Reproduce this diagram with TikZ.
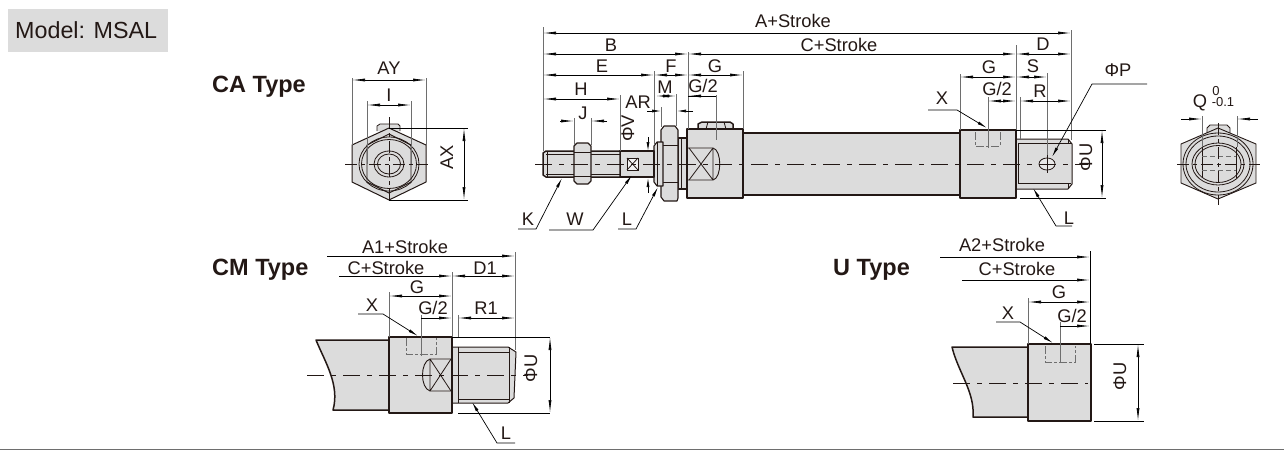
\documentclass[tikz,border=0pt]{standalone}
\usepackage{fontspec}
\setmainfont{Liberation Sans}
\usetikzlibrary{arrows.meta}
\definecolor{bodygray}{HTML}{DCDCDC}
\definecolor{inkk}{HTML}{231815}
\definecolor{extgray}{HTML}{6E6E6E}
\tikzset{
 x=1pt,y=-1pt,
 body/.style={draw=inkk,fill=bodygray,line width=1.5pt,line join=round},
 thinb/.style={draw=inkk,line width=.8pt},
 dim/.style={draw=black,line width=.7pt,arrows={Latex[length=13pt,width=3pt]-Latex[length=13pt,width=3pt]}},
 dimr/.style={draw=black,line width=.7pt,arrows={-Latex[length=13pt,width=3pt]}},
 ext/.style={draw=extgray,line width=.8pt},
 lead/.style={draw=black,line width=.7pt},
 cl/.style={draw=inkk,line width=.7pt,dash pattern=on 17pt off 7pt on 5pt off 7pt},
 hid/.style={draw=extgray,line width=.8pt,dash pattern=on 5pt off 3pt},
 lb/.style={inner sep=0pt,anchor=base,text=inkk,font=\fontsize{18.3}{18}\selectfont},
 ttl/.style={inner sep=0pt,anchor=base west,text=inkk,font=\fontsize{23.5}{24}\selectfont\bfseries},
}
\newcommand{\lbl}[3]{\node[lb] at (#1,#2) [yshift=-6.5pt] {#3};}
\newcommand{\lblr}[3]{\node[lb,rotate=90] at (#1,#2) [xshift=6.5pt] {#3};}
\begin{document}
\begin{tikzpicture}
\useasboundingbox (0,0) rectangle (1284,450);
% title box
\fill[bodygray] (8,9) rectangle (168,52);
\node[inner sep=0pt,anchor=base west,text=inkk,font=\fontsize{23.3}{24}\selectfont] (model) at (15,38) {Model: MSAL};
\node[ttl] (ca) at (212,92) {CA Type};
\node[ttl] (cm) at (212,275) {CM Type};
\node[ttl] (ut) at (833,275) {U Type};
% bottom rule
\draw[draw=extgray,line width=.9pt] (0,449.3) -- (1284,449.3);

% ---------- left end view
\draw[body,line width=.8pt] (377,131) -- (377,126) -- (380,124) -- (398,124) -- (400,126) -- (400,131);
\draw[body,line width=1pt] (389,128) -- (426,145) -- (426,182) -- (389,200) -- (352,182) -- (352,145) -- cycle;
\draw[thinb] (389,164) ellipse (30 and 27);
\draw[thinb] (389,164) ellipse (27.5 and 24.5);
\draw[thinb,line width=.9pt] (389,134) -- (411,145) -- (411,182) -- (389,193) -- (367,182) -- (367,145) -- cycle;
\draw[thinb] (389,164) ellipse (15 and 13);
\draw[thinb] (389,164) ellipse (11.5 and 10);
\draw[cl,dash pattern=on 12pt off 4pt on 4pt off 4pt] (345,164) -- (428,164);
\draw[cl,dash pattern=on 12pt off 4pt on 4pt off 4pt] (389,117) -- (389,201);
\draw[ext] (352,78) -- (352,145) (426,78) -- (426,145) (367,101) -- (367,164) (411,101) -- (411,164);
\draw[lead] (389,128) -- (468,128) (389,200) -- (468,200);
\draw[dim] (352,80) -- (426,80);
\draw[dim] (367,105) -- (411,105);
\draw[dim] (464,128) -- (464,200);
\lbl{389}{68}{AY} \lbl{389}{95}{I} \lblr{453}{164}{AX}

% ---------- main cylinder
\draw[body] (743,133) rectangle (960,195);
\draw[body] (698,129) -- (698,124) -- (702,122) -- (730,122) -- (733,124) -- (733,129);
\draw[thinb] (708,122) -- (706,129) (724,122) -- (726,129);
\draw[body,line width=1pt] (1016,139) -- (1068,139) -- (1072,144) -- (1072,184) -- (1068,189) -- (1016,189) -- cycle;
\draw[thinb] (1018,143) -- (1071,143) (1018,143) -- (1018,183) -- (1071,183);
\draw[thinb] (1068,139) -- (1068,143) (1068,183) -- (1068,189);
\draw[body] (960,130) rectangle (1016,198);
\draw[body] (687,129) rectangle (743,198);
\draw[body,line width=1.1pt] (678,138) -- (687,138) -- (687,189) -- (678,189) -- cycle;
\draw[thinb] (681,138) -- (681,189);
\draw[body,line width=1.1pt] (661,130) -- (664,126) -- (675,126) -- (678,130) -- (678,198) -- (677,201) -- (664,201) -- (661,197) -- cycle;
\draw[thinb] (661,145) -- (678,145) (661,182) -- (678,182);
\draw[body,line width=1.1pt] (654,146) -- (657,142) -- (663,142) -- (663,186) -- (657,186) -- (654,182) -- cycle;
\draw[thinb] (657,142) -- (657,186);
\draw[body] (620,151) rectangle (654,177);
\draw[body] (543,153) -- (546,151) -- (620,151) -- (620,177) -- (546,177) -- (543,175) -- cycle;
\draw[thinb] (546,154) -- (620,154) (546,174) -- (620,174) (547,151) -- (547,177);
\draw[body,line width=1.1pt] (574,146) -- (577,143) -- (588,143) -- (591,146) -- (591,181) -- (588,184) -- (577,184) -- (574,181) -- cycle;
\draw[thinb] (574,152) -- (591,152) (574,176) -- (591,176);
\draw[thinb,fill=white!70!bodygray,line width=.9pt] (627,158) rectangle (638,170);
\draw[thinb] (627,158) -- (638,170) (627,170) -- (638,158);
\draw[thinb,line width=.9pt] (688,148) -- (713,148) .. controls (722,150) and (722,178) .. (713,180) -- (688,180);
\draw[thinb] (713,148) -- (713,180) (689,148) -- (713,180) (689,180) -- (713,148);
\draw[hid,dash pattern=on 8pt off 2pt on 3pt off 2pt] (975,132) -- (975,146) -- (1000,146) -- (1000,132);
\draw[thinb,fill=white!35!bodygray] (1047,164) ellipse (8 and 6);
\draw[cl] (535,164) -- (1088,164);
\draw[thinb] (1047,154) -- (1047,173);
% extension lines
\draw[ext] (543,27) -- (543,151) (1071,30) -- (1071,140)
 (688,52) -- (688,129) (1016,45) -- (1016,130)
 (654,71) -- (654,145) (743,71) -- (743,129)
 (676,94) -- (676,126) (661,107) -- (661,127)
 (716,95) -- (716,140) (620,95) -- (620,151)
 (574,118) -- (574,145) (591,118) -- (591,145)
 (960,74) -- (960,130) (988,97) -- (988,148)
 (1047,73) -- (1047,155) (1020,97) -- (1020,139);
\draw[lead] (1016,130) -- (1106,130) (1020,198) -- (1106,198);
% dimensions
\draw[dim] (543,33) -- (1071,33);
\draw[dim] (543,54) -- (688,54);
\draw[dim] (688,54) -- (1016,54);
\draw[dim] (1016,54) -- (1071,54);
\draw[dim] (543,75) -- (654,75);
\draw[dim] (654,75) -- (688,75);
\draw[dim] (688,75) -- (743,75);
\draw[dim] (656,96) -- (676,96);
\draw[dimr] (701,96) -- (688,96);
\draw[lead] (688,96) -- (716,96);
\draw[dim] (543,99) -- (620,99);
\draw[dimr] (560,121) -- (574,121);
\draw[dimr] (607,121) -- (591,121);
\draw[dimr,arrows={-Latex[length=9pt,width=3pt]}] (647,111) -- (661,111);
\draw[dimr,arrows={-Latex[length=9pt,width=3pt]}] (693,111) -- (677,111);
\draw[dimr,arrows={-Latex[length=9pt,width=3pt]}] (648,137) -- (648,151);
\draw[dimr,arrows={-Latex[length=9pt,width=3pt]}] (648,193) -- (648,178);
\draw[dim] (960,77) -- (1016,77);
\draw[dim] (1016,77) -- (1047,77);
\draw[dimr] (1003,101) -- (1016,101);
\draw[dimr] (1003,101) -- (988,101);
\draw[dim] (1020,101) -- (1071,101);
\draw[dim] (1102,130) -- (1102,198);
% leaders
\draw[lead,-{Latex[length=10pt,width=3pt]}] (518,229) -- (536,229) -- (562,178);
\draw[lead,-{Latex[length=10pt,width=3pt]}] (549,230) -- (593,230) -- (632,175);
\draw[lead,-{Latex[length=10pt,width=3pt]}] (618,229) -- (636,229) -- (658,187);
\draw[lead,-{Latex[length=10pt,width=3pt]}] (928,110) -- (957,110) -- (987,128);
\draw[lead,-{Latex[length=10pt,width=3pt]}] (1147,84) -- (1092,84) -- (1052,157);
\draw[lead,-{Latex[length=10pt,width=3pt]}] (1072,226) -- (1056,226) -- (1033,188);
% labels
\lbl{793}{21}{A+Stroke} \lbl{611}{45}{B} \lbl{839}{45}{C+Stroke} \lbl{1043}{44}{D}
\lbl{602}{66}{E} \lbl{671}{66}{F} \lbl{715}{66}{G} \lbl{665}{87}{M} \lbl{703}{86}{G/2}
\lbl{581}{89}{H} \lbl{583}{113}{J} \lbl{638}{102}{AR} \lblr{634}{135}{ΦV}
\lbl{528}{219}{K} \lbl{575}{219}{W} \lbl{627}{219}{L}
\lbl{989}{67}{G} \lbl{997}{89}{G/2} \lbl{1033}{66}{S} \lbl{1040}{91}{R}
\lbl{942}{98}{X} \lbl{1118}{70}{ΦP} \lbl{1069}{218}{L} \lblr{1092}{164}{ΦU}

% ---------- right end view
\draw[body,line width=.8pt] (1207,134) -- (1207,128) -- (1210,125) -- (1227,125) -- (1230,128) -- (1230,134);
\draw[body,line width=.9pt] (1218,128) -- (1256,144) -- (1256,183) -- (1218,199) -- (1181,183) -- (1181,144) -- cycle;
\draw[thinb] (1218,164) ellipse (35 and 31);
\draw[thinb] (1218,164) ellipse (32 and 28);
\draw[thinb] (1218,164) ellipse (26 and 21);
\draw[thinb] (1218,164) ellipse (23 and 18.5);
\draw[thinb,line width=1pt] (1202,147) -- (1202,178) (1236,147) -- (1236,178);
\draw[hid] (1202,156) -- (1236,156) (1202,170) -- (1236,170);
\draw[cl,dash pattern=on 12pt off 4pt on 4pt off 4pt] (1177,164) -- (1260,164);
\draw[cl,dash pattern=on 12pt off 4pt on 4pt off 4pt] (1218,123) -- (1218,205);
\draw[ext] (1202,116) -- (1202,147) (1237,116) -- (1237,147);
\draw[dimr] (1181,119) -- (1202,119);
\draw[dimr] (1258,119) -- (1237,119);
\lbl{1200}{101}{Q}
\node[lb,font=\fontsize{13}{13}\selectfont] (q0) at (1216,91) [yshift=-4.7pt] {0};
\node[lb,font=\fontsize{13}{13}\selectfont] (q1) at (1223,102) [yshift=-4.7pt] {-0.1};

% ---------- CM type
\draw[body] (316,340) .. controls (325,362) and (340,385) .. (333,410) -- (389,410) -- (389,340) -- cycle;
\draw[body,line width=1pt] (452,347) -- (508,347) -- (516,352) -- (514,398) -- (508,403) -- (452,403) -- cycle;
\draw[thinb] (458,352) -- (510,352) (458,399) -- (510,399) (458,347) -- (458,403) (509,347) -- (509,403);
\draw[body] (389,337) rectangle (452,413);
\draw[thinb,line width=.9pt] (451,359) -- (430,359) .. controls (420,362) and (420,388) .. (430,391) -- (451,391);
\draw[thinb] (430,359) -- (430,391) (430,359) -- (451,391) (430,391) -- (451,359);
\draw[hid,dash pattern=on 8pt off 2pt on 3pt off 2pt] (406,338) -- (406,354) -- (436,354) -- (436,338);
\draw[cl] (307,375) -- (528,375);
\draw[ext] (515,252) -- (515,350) (452,272) -- (452,337) (389,292) -- (389,337) (421,315) -- (421,356) (458,315) -- (458,337);
\draw[lead] (452,337) -- (550,337) (458,413) -- (550,413);
\draw[dimr] (327,256) -- (515,256);
\draw[dimr] (339,276) -- (452,276);
\draw[dim] (452,276) -- (515,276);
\draw[dim] (389,296) -- (452,296);
\draw[dimr] (421,318) -- (452,318);
\draw[dim] (458,318) -- (515,318);
\draw[dim] (550,337) -- (550,413);
\draw[lead,-{Latex[length=10pt,width=3pt]}] (358,314) -- (383,314) -- (418,336);
\draw[lead,-{Latex[length=10pt,width=3pt]}] (515,443) -- (497,443) -- (472,402);
\lbl{405}{247}{A1+Stroke} \lbl{386}{268}{C+Stroke} \lbl{485}{268}{D1}
\lbl{417}{287}{G} \lbl{433}{308}{G/2} \lbl{486}{308}{R1} \lbl{372}{305}{X}
\lbl{506}{433}{L} \lblr{537}{375}{ΦU}

% ---------- U type
\draw[body] (952,347) .. controls (958,372) and (975,392) .. (973,417) -- (1028,417) -- (1028,347) -- cycle;
\draw[body] (1028,344) rectangle (1091,421);
\draw[hid,dash pattern=on 8pt off 2pt on 3pt off 2pt] (1045,346) -- (1045,362) -- (1075,362) -- (1075,346);
\draw[cl] (953,383) -- (1088,383);
\draw[ext] (1028,298) -- (1028,344) (1060,322) -- (1060,363);
\draw[lead] (1090,251) -- (1090,344) (1094,344) -- (1144,344) (1094,421) -- (1144,421);
\draw[dimr] (940,257) -- (1090,257);
\draw[dimr] (962,280) -- (1090,280);
\draw[dim] (1028,302) -- (1090,302);
\draw[dimr] (1060,326) -- (1090,326);
\draw[dim] (1138,344) -- (1138,421);
\draw[lead,-{Latex[length=10pt,width=3pt]}] (996,322) -- (1020,322) -- (1053,343);
\lbl{1002}{245}{A2+Stroke} \lbl{1017}{269}{C+Stroke} \lbl{1059}{292}{G}
\lbl{1072}{316}{G/2} \lbl{1008}{313}{X} \lblr{1126}{383}{ΦU}
\end{tikzpicture}
\end{document}
